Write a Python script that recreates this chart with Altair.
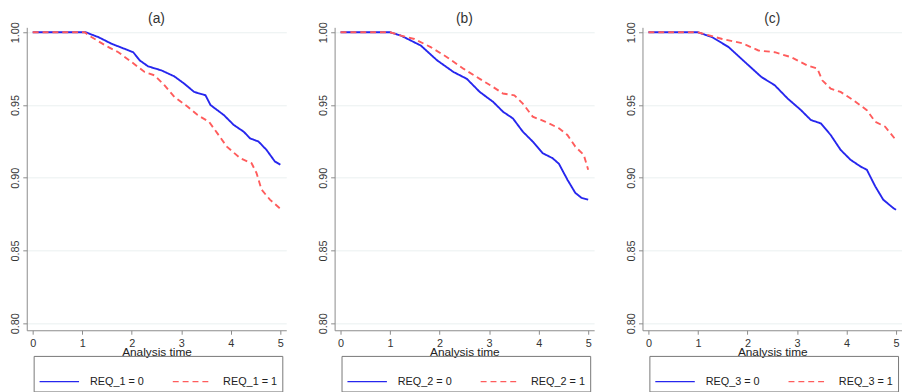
import altair as alt
import pandas as pd

# ---- data (Kaplan-Meier survival estimates) ----
panel_letters = ["a", "b", "c"]
panel_vars = ["REQ_1", "REQ_2", "REQ_3"]

t_a0 = [0, 1.07, 1.33, 1.6, 2.03, 2.16, 2.33, 2.6, 2.86, 3.06, 3.26, 3.49, 3.59, 3.86, 4.06, 4.26, 4.39, 4.56, 4.72, 4.89, 5.0]
s_a0 = [1.0, 1.0, 0.9966, 0.992, 0.9863, 0.9807, 0.9766, 0.9738, 0.9697, 0.9647, 0.959, 0.9567, 0.950, 0.9431, 0.9363, 0.9317, 0.9271, 0.9249, 0.9192, 0.9112, 0.909]
t_a1 = [0, 1.05, 1.14, 1.47, 1.73, 2.0, 2.26, 2.46, 2.66, 2.86, 3.13, 3.33, 3.56, 3.73, 3.92, 4.19, 4.42, 4.52, 4.62, 4.79, 4.99]
s_a1 = [1.0, 1.0, 0.9977, 0.9909, 0.9863, 0.9795, 0.9727, 0.9704, 0.9636, 0.9556, 0.9488, 0.9431, 0.9385, 0.9305, 0.9214, 0.9135, 0.91, 0.9032, 0.8919, 0.885, 0.879]

t_b0 = [0, 1.0, 1.22, 1.62, 1.95, 2.28, 2.55, 2.81, 3.08, 3.28, 3.48, 3.68, 3.88, 4.08, 4.28, 4.41, 4.58, 4.74, 4.87, 5.0]
s_b0 = [1.0, 1.0, 0.9977, 0.9909, 0.9807, 0.9727, 0.968, 0.959, 0.9522, 0.9454, 0.9408, 0.9317, 0.9249, 0.9169, 0.9135, 0.9096, 0.8987, 0.8896, 0.8861, 0.885]
t_b1 = [0, 1.0, 1.22, 1.49, 1.82, 2.15, 2.48, 2.81, 3.08, 3.28, 3.51, 3.68, 3.88, 4.14, 4.41, 4.58, 4.74, 4.91, 5.0]
s_b1 = [1.0, 1.0, 0.9977, 0.9954, 0.9898, 0.9829, 0.975, 0.968, 0.9624, 0.9579, 0.9567, 0.951, 0.942, 0.9385, 0.934, 0.9294, 0.9214, 0.9158, 0.9055]

t_c0 = [0, 1.0, 1.29, 1.62, 1.95, 2.28, 2.55, 2.81, 3.08, 3.28, 3.48, 3.68, 3.88, 4.08, 4.28, 4.41, 4.58, 4.74, 4.94, 5.0]
s_c0 = [1.0, 1.0, 0.9966, 0.9898, 0.9795, 0.9693, 0.9636, 0.9545, 0.9465, 0.9397, 0.9374, 0.9294, 0.9192, 0.9124, 0.9078, 0.9055, 0.8941, 0.885, 0.8793, 0.878]
t_c1 = [0, 1.0, 1.16, 1.49, 1.89, 2.22, 2.55, 2.88, 3.21, 3.41, 3.51, 3.68, 3.88, 4.14, 4.41, 4.58, 4.78, 4.97]
s_c1 = [1.0, 1.0, 0.9985, 0.9954, 0.9925, 0.9875, 0.9863, 0.9829, 0.9772, 0.975, 0.967, 0.9613, 0.959, 0.9533, 0.9465, 0.9385, 0.9351, 0.9271]

x_ticks = [0, 1, 2, 3, 4, 5]
y_ticks = [0.80, 0.85, 0.90, 0.95, 1.00]

series = {
    "a": ((t_a0, s_a0), (t_a1, s_a1)),
    "b": ((t_b0, s_b0), (t_b1, s_b1)),
    "c": ((t_c0, s_c0), (t_c1, s_c1)),
}

BLUE = "#2626ee"
RED = "#ff5c5c"
FONT = "Liberation Sans"


def panel(letter, var):
    (t0, s0), (t1, s1) = series[letter]
    labels = [f"{var} = 0", f"{var} = 1"]
    rows = [{"t": t, "S": s, "group": labels[0]} for t, s in zip(t0, s0)]
    rows += [{"t": t, "S": s, "group": labels[1]} for t, s in zip(t1, s1)]
    df = pd.DataFrame(rows)
    leg = alt.Legend(
        title=None, orient="none", legendX=7, legendY=333, direction="horizontal",
        symbolType="stroke", symbolSize=1600, symbolStrokeWidth=1.2,
        labelFont=FONT, labelFontSize=11, labelColor="#222",
        strokeColor="#777", padding=5, columnPadding=26, labelOffset=10,
    )
    return alt.Chart(df).mark_line(strokeWidth=1.9).encode(
        x=alt.X("t:Q",
                scale=alt.Scale(domain=[-0.12, 5.12], nice=False, zero=False),
                axis=alt.Axis(values=x_ticks, format="d", title="Analysis time", grid=False,
                              labelPadding=3, titlePadding=-1)),
        y=alt.Y("S:Q",
                scale=alt.Scale(domain=[0.7952, 1.0034], nice=False, zero=False),
                axis=alt.Axis(values=y_ticks, format=".2f", title=None, grid=True,
                              labelAngle=270, labelAlign="center", labelBaseline="bottom")),
        color=alt.Color("group:N", scale=alt.Scale(domain=labels, range=[BLUE, RED]), legend=leg),
        strokeDash=alt.StrokeDash("group:N", scale=alt.Scale(domain=labels, range=[[1, 0], [6, 4]]),
                                  legend=leg),
    ).properties(width=263, height=307, title=alt.Title(f"({letter})"))


charts = [panel(l, v) for l, v in zip(panel_letters, panel_vars)]

chart = alt.hconcat(*charts, spacing=32).resolve_scale(
    color="independent", strokeDash="independent"
).resolve_legend(color="independent", strokeDash="independent").properties(
    padding={"left": 2, "top": 1, "right": 0, "bottom": 0}
).configure_view(stroke=None).configure_axis(
    domainColor="#8a8a8a", tickColor="#8a8a8a", labelColor="#333", labelFont=FONT,
    labelFontSize=11, titleFont=FONT, titleFontSize=12, titleFontWeight="normal",
    titleColor="#222", gridColor="#eaf0f0", tickSize=4, labelPadding=2,
).configure_title(
    font=FONT, fontSize=14, fontWeight="normal", color="#333", offset=-4, anchor="middle"
)

chart.save("out.html", embed_options={"renderer": "svg", "actions": False})
